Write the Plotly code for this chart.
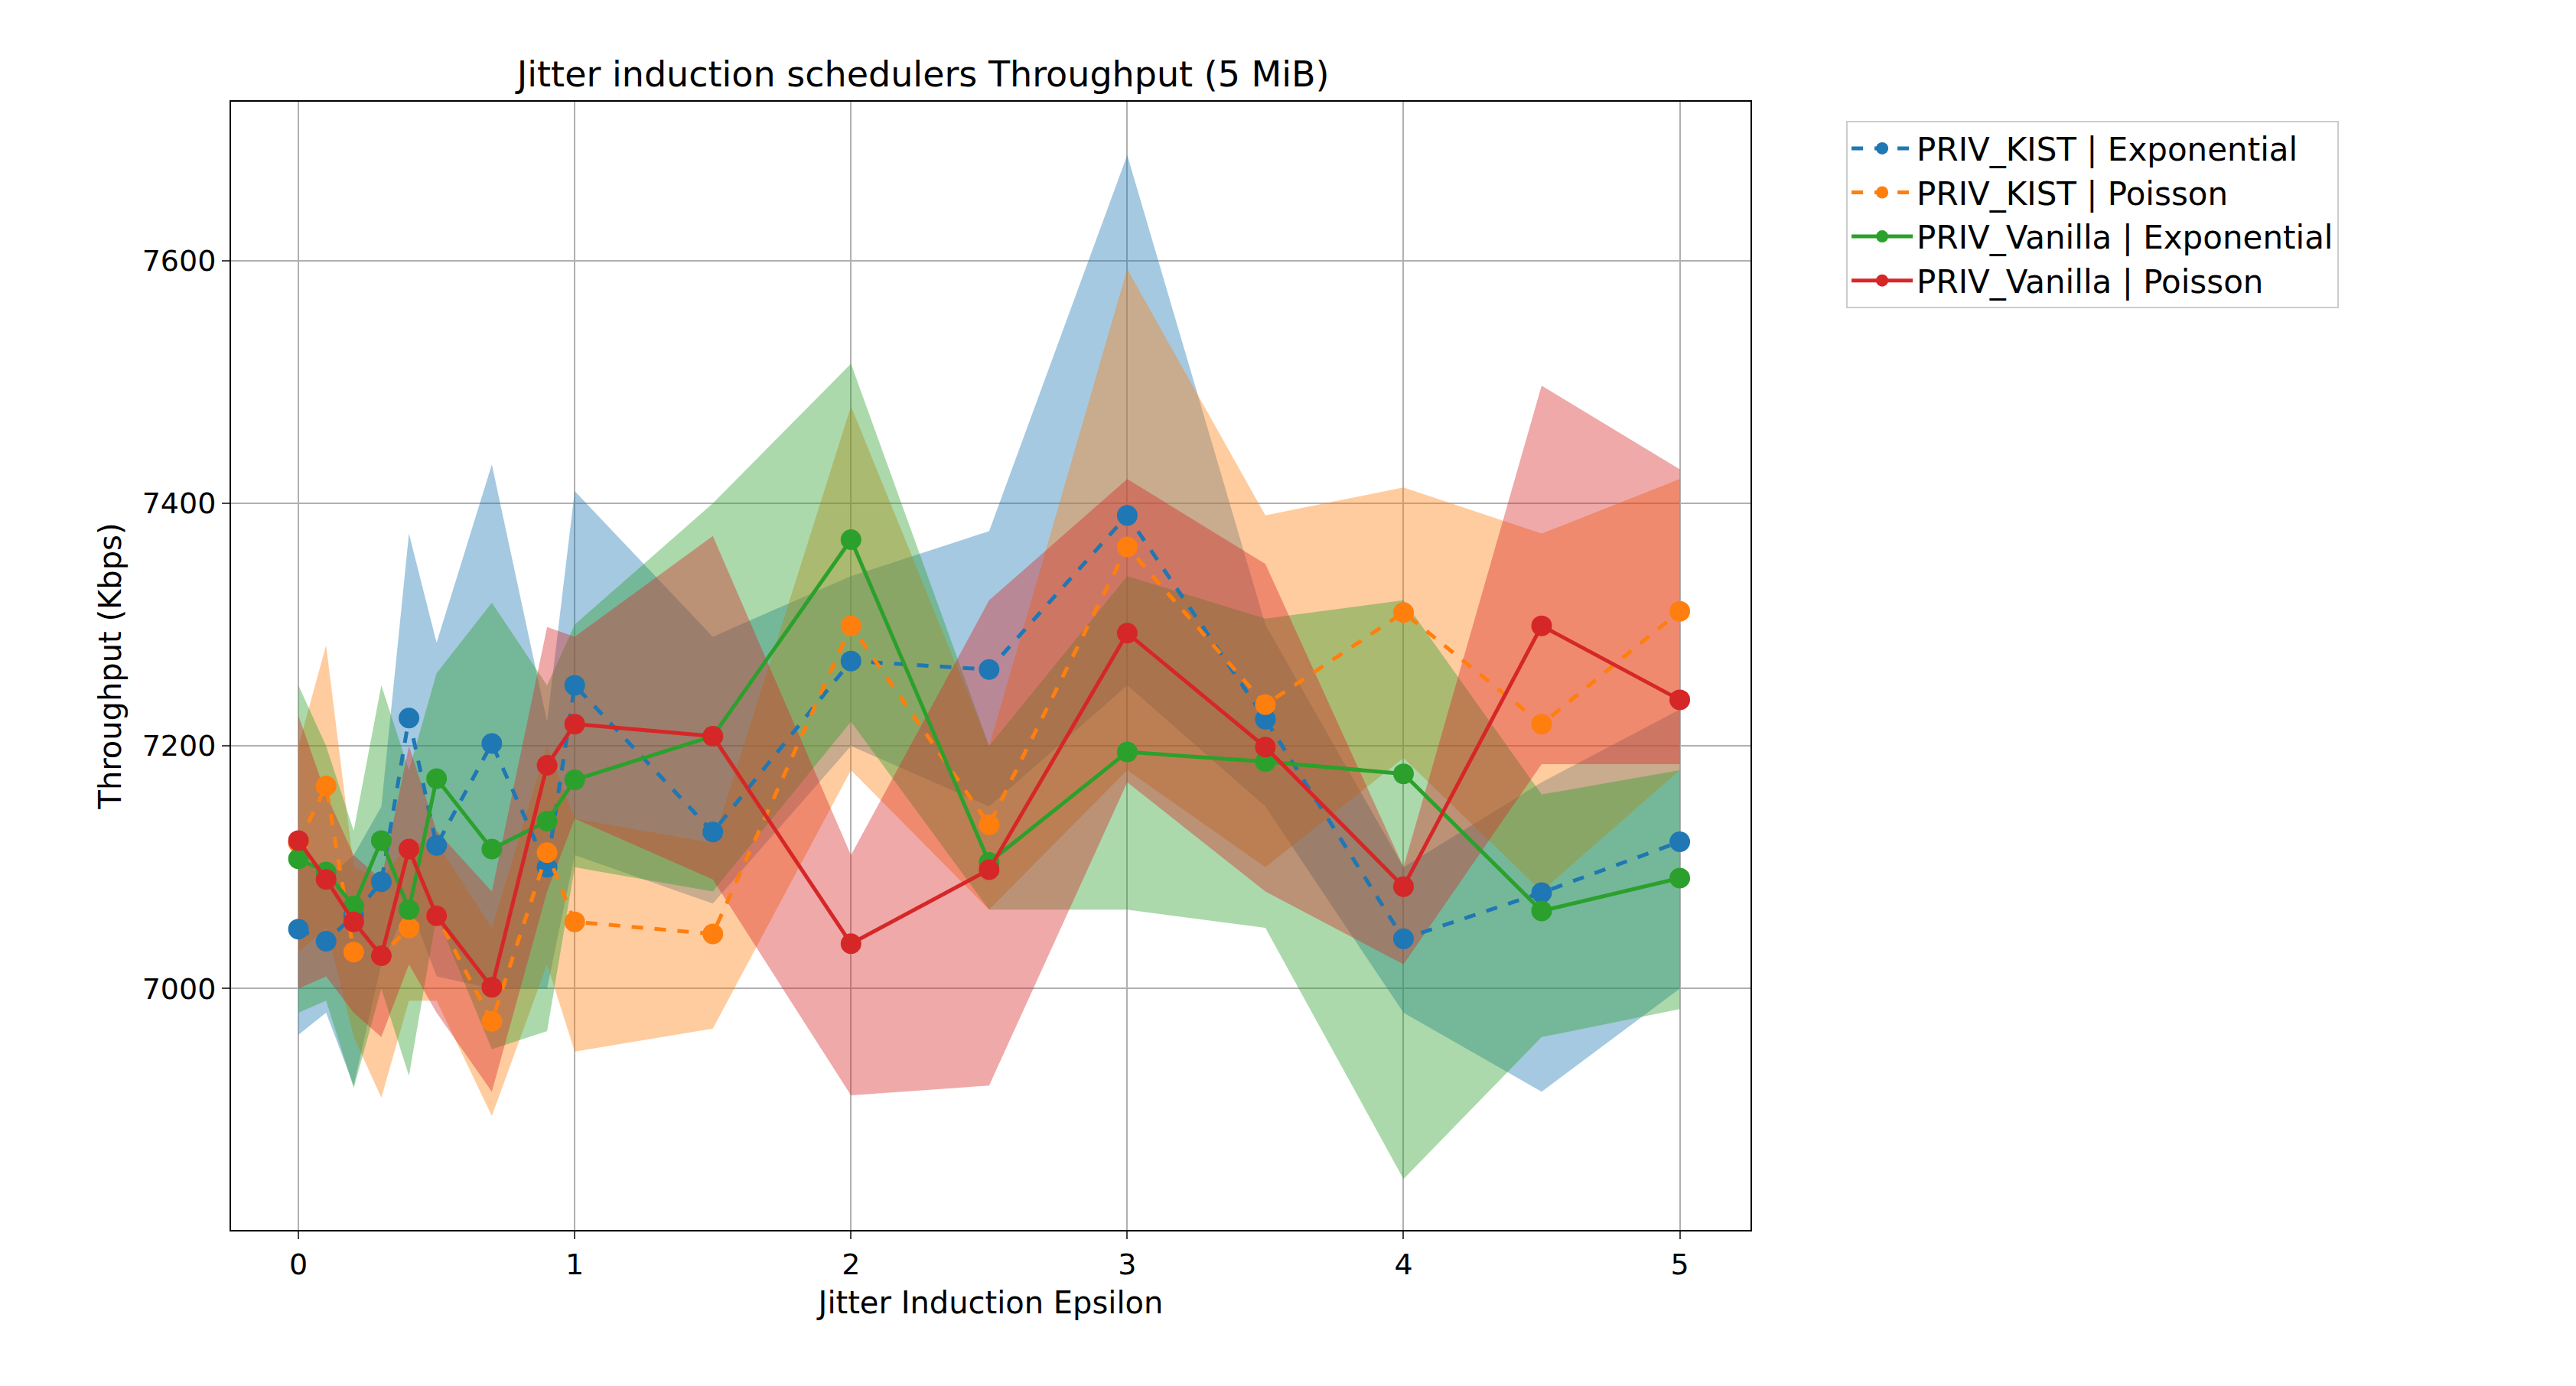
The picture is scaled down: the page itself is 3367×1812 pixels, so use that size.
import plotly.graph_objects as go

eps = [0, 0.1, 0.2, 0.3, 0.4, 0.5, 0.7, 0.9, 1, 1.5, 2, 2.5, 3, 3.5, 4, 4.5, 5]

kist_exp = [7049, 7039, 7060, 7088, 7223, 7118, 7202, 7100, 7250, 7129, 7270, 7263, 7390, 7222, 7041, 7079, 7121]
kist_exp_hi = [7110, 7090, 7110, 7150, 7375, 7285, 7432, 7220, 7410, 7290, 7340, 7377, 7687, 7300, 7100, 7170, 7230]
kist_exp_lo = [6962, 6980, 6920, 7020, 7070, 7010, 7000, 7000, 7110, 7070, 7200, 7150, 7250, 7150, 6980, 6915, 7000]

kist_poi = [7120, 7167, 7030, 7027, 7050, 7060, 6973, 7112, 7055, 7045, 7299, 7135, 7364, 7234, 7310, 7218, 7311]
kist_poi_hi = [7200, 7283, 7100, 7090, 7120, 7120, 7050, 7200, 7140, 7120, 7480, 7200, 7593, 7390, 7413, 7375, 7420]
kist_poi_lo = [7030, 7050, 6960, 6910, 6990, 6990, 6895, 7020, 6948, 6967, 7180, 7065, 7180, 7100, 7190, 7080, 7180]

van_exp = [7107, 7096, 7068, 7122, 7065, 7173, 7115, 7138, 7172, 7208, 7370, 7104, 7195, 7187, 7177, 7064, 7091]
van_exp_hi = [7250, 7200, 7130, 7250, 7180, 7260, 7318, 7250, 7300, 7400, 7515, 7200, 7340, 7305, 7320, 7160, 7180]
van_exp_lo = [6980, 6990, 6918, 7000, 6928, 7060, 6950, 6965, 7100, 7080, 7220, 7065, 7065, 7050, 6843, 6960, 6983]

van_poi = [7122, 7090, 7055, 7027, 7115, 7060, 7001, 7184, 7218, 7208, 7037, 7098, 7293, 7199, 7084, 7299, 7238]
van_poi_hi = [7225, 7160, 7110, 7090, 7200, 7130, 7080, 7298, 7290, 7373, 7110, 7320, 7420, 7350, 7100, 7497, 7428]
van_poi_lo = [7000, 7010, 6980, 6960, 7020, 6980, 6915, 7080, 7140, 7090, 6912, 6920, 7170, 7080, 7020, 7185, 7185]

series = [
    ("PRIV_KIST | Exponential", kist_exp, kist_exp_lo, kist_exp_hi, (31, 119, 180), "dash"),
    ("PRIV_KIST | Poisson", kist_poi, kist_poi_lo, kist_poi_hi, (255, 127, 14), "dash"),
    ("PRIV_Vanilla | Exponential", van_exp, van_exp_lo, van_exp_hi, (44, 160, 44), "solid"),
    ("PRIV_Vanilla | Poisson", van_poi, van_poi_lo, van_poi_hi, (214, 39, 40), "solid"),
]

fig = go.Figure()
for name, y, lo, hi, c, dash in series:
    fig.add_trace(go.Scatter(x=eps, y=lo, mode="lines", line=dict(width=0),
                             showlegend=False, hoverinfo="skip"))
    fig.add_trace(go.Scatter(x=eps, y=hi, mode="lines", line=dict(width=0),
                             fill="tonexty", fillcolor="rgba(%d,%d,%d,0.4)" % c,
                             showlegend=False, hoverinfo="skip"))
for name, y, lo, hi, c, dash in series:
    rgb = "rgb(%d,%d,%d)" % c
    fig.add_trace(go.Scatter(x=eps, y=y, mode="lines+markers", name=name,
                             line=dict(color=rgb, width=5, dash=dash),
                             marker=dict(color=rgb, size=27)))

axis = dict(showline=True, linecolor="black", linewidth=2, mirror=True,
            showgrid=True, gridcolor="#b0b0b0", gridwidth=2, zeroline=False,
            ticks="outside", ticklen=10, tickwidth=2,
            tickfont=dict(size=38, color="black"))
fig.update_layout(
    width=3367, height=1812,
    paper_bgcolor="white", plot_bgcolor="white",
    font=dict(family="DejaVu Sans", color="black"),
    title=dict(text="Jitter induction schedulers Throughput (5 MiB)", x=0.356, xanchor="center",
               y=0.96, font=dict(size=46)),
    margin=dict(l=294, r=1087, t=125, b=212),
    xaxis=dict(axis, range=[-0.244, 5.256], tickvals=[0, 1, 2, 3, 4, 5],
               title=dict(text="Jitter Induction Epsilon", font=dict(size=40))),
    yaxis=dict(axis, range=[6801, 7731], tickvals=[7000, 7200, 7400, 7600],
               title=dict(text="Throughput (Kbps)", font=dict(size=40))),
    legend=dict(x=1.063, y=0.983, xanchor="left", yanchor="top", traceorder="normal",
                bordercolor="#cccccc", borderwidth=2, font=dict(size=42),
                itemwidth=80, tracegroupgap=10),
)
fig.write_html("out.html")
